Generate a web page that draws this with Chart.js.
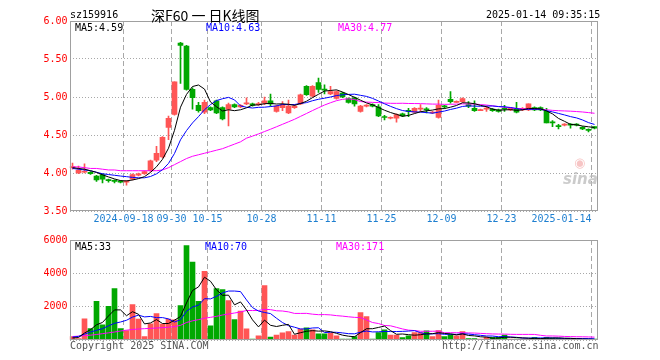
<!DOCTYPE html>
<html>
<head>
<meta charset="utf-8">
<script src="https://cdn.jsdelivr.net/npm/chart.js@4.4.1/dist/chart.umd.min.js"></script>
<style>
html,body{margin:0;padding:0;background:#fff;}
#wrap{position:relative;width:660px;height:360px;overflow:hidden;font-family:"DejaVu Sans Mono",monospace;font-size:10px;}
#wrap canvas{position:absolute;left:0;top:0;}
.t{position:absolute;white-space:pre;line-height:12px;font-size:10px;font-family:"DejaVu Sans Mono",monospace;}
</style>
</head>
<body>
<div id="wrap">
<canvas id="kc" width="660" height="360"></canvas>
<canvas id="vc" width="660" height="360"></canvas>
<div class="t" style="left:70px;top:9px;color:#000;">sz159916</div>
<div class="t" style="left:151px;top:5px;line-height:20px;font-size:14px;font-family:'Noto Sans CJK SC',sans-serif;color:#000;">深F60 一 日K线图</div>
<div class="t" style="left:486px;top:9px;color:#000;">2025-01-14 09:35:15</div>
<div class="t" style="left:75px;top:22px;color:#000;">MA5:4.59</div>
<div class="t" style="left:206px;top:22px;color:#0000ff;">MA10:4.63</div>
<div class="t" style="left:338px;top:22px;color:#ff00ff;">MA30:4.77</div>
<div class="t" style="left:75px;top:241px;color:#000;">MA5:33</div>
<div class="t" style="left:205px;top:241px;color:#0000ff;">MA10:70</div>
<div class="t" style="left:336px;top:241px;color:#ff00ff;">MA30:171</div>
<div class="t" style="left:70px;top:340px;color:#555;">Copyright 2025 SINA.COM</div>
<div class="t" style="left:442px;top:340px;color:#555;">http://finance.sina.com.cn</div>
<div class="t" style="left:574px;top:156px;font-size:13px;line-height:14px;font-family:'DejaVu Sans',sans-serif;color:rgba(240,150,150,0.55);">◉</div>
<div class="t" style="left:563px;top:170px;font-size:15px;line-height:18px;font-style:italic;font-weight:bold;font-family:'DejaVu Sans',sans-serif;color:rgba(185,185,185,0.75);">sina</div>
</div>
<script>
// ---- data ----
const dates = [
 '2024-09-03','2024-09-04','2024-09-05','2024-09-06','2024-09-09','2024-09-10','2024-09-11','2024-09-12','2024-09-13','2024-09-18',
 '2024-09-19','2024-09-20','2024-09-23','2024-09-24','2024-09-25','2024-09-26','2024-09-27','2024-09-30','2024-10-08','2024-10-09',
 '2024-10-10','2024-10-11','2024-10-14','2024-10-15','2024-10-16','2024-10-17','2024-10-18','2024-10-21','2024-10-22','2024-10-23',
 '2024-10-24','2024-10-25','2024-10-28','2024-10-29','2024-10-30','2024-10-31','2024-11-01','2024-11-04','2024-11-05','2024-11-06',
 '2024-11-07','2024-11-08','2024-11-11','2024-11-12','2024-11-13','2024-11-14','2024-11-15','2024-11-18','2024-11-19','2024-11-20',
 '2024-11-21','2024-11-22','2024-11-25','2024-11-26','2024-11-27','2024-11-28','2024-11-29','2024-12-02','2024-12-03','2024-12-04',
 '2024-12-05','2024-12-06','2024-12-09','2024-12-10','2024-12-11','2024-12-12','2024-12-13','2024-12-16','2024-12-17','2024-12-18',
 '2024-12-19','2024-12-20','2024-12-23','2024-12-24','2024-12-25','2024-12-26','2024-12-27','2024-12-30','2024-12-31','2025-01-02',
 '2025-01-03','2025-01-06','2025-01-07','2025-01-08','2025-01-09','2025-01-10','2025-01-13','2025-01-14'];

const openP = [
 4.07,4.00,4.01,4.01,3.96,3.98,3.91,3.90,3.89,3.88,
 3.92,3.97,3.99,4.03,4.17,4.21,4.60,4.77,5.71,5.67,
 5.10,4.89,4.80,4.86,4.95,4.86,4.84,4.90,4.87,4.91,
 4.91,4.90,4.92,4.95,4.81,4.86,4.79,4.86,4.91,5.14,
 5.01,5.19,5.10,5.04,4.98,5.05,4.98,4.99,4.81,4.88,
 4.90,4.87,4.74,4.72,4.72,4.78,4.82,4.80,4.84,4.84,
 4.79,4.73,4.88,4.97,4.93,4.94,4.90,4.85,4.82,4.84,
 4.84,4.83,4.85,4.83,4.84,4.83,4.83,4.86,4.86,4.81,
 4.67,4.62,4.63,4.64,4.64,4.60,4.57,4.61];
const closeP = [
 4.08,4.04,4.02,3.99,3.91,3.92,3.90,3.89,3.88,3.89,
 3.98,3.99,4.02,4.16,4.26,4.47,4.72,5.20,5.68,5.10,
 4.99,4.82,4.93,4.83,4.79,4.71,4.90,4.87,4.89,4.92,
 4.89,4.91,4.95,4.91,4.88,4.90,4.88,4.88,5.03,5.03,
 5.14,5.10,5.09,5.07,5.07,5.00,4.93,4.91,4.88,4.89,
 4.88,4.75,4.73,4.73,4.77,4.75,4.81,4.85,4.85,4.83,
 4.80,4.89,4.87,4.94,4.94,4.98,4.88,4.82,4.83,4.85,
 4.82,4.81,4.84,4.85,4.80,4.85,4.91,4.83,4.83,4.66,
 4.66,4.61,4.64,4.63,4.63,4.58,4.56,4.59];
const highP = [
 4.13,4.09,4.12,4.02,3.97,3.99,3.92,3.91,3.90,3.90,
 3.99,4.00,4.03,4.17,4.35,4.48,4.75,5.20,5.72,5.68,
 5.12,4.93,4.96,4.87,4.96,4.87,4.92,4.91,4.90,4.99,
 4.92,4.93,5.00,5.04,4.89,4.94,4.96,4.90,5.04,5.15,
 5.15,5.25,5.16,5.14,5.08,5.06,4.99,5.00,4.89,4.90,
 4.91,4.90,4.76,4.74,4.78,4.79,4.85,4.86,4.90,4.86,
 4.81,4.96,4.89,5.07,4.95,4.99,4.94,4.95,4.84,4.88,
 4.85,4.84,4.89,4.86,4.93,4.86,4.91,4.87,4.87,4.85,
 4.69,4.64,4.65,4.65,4.65,4.61,4.58,4.61];
const lowP = [
 4.05,3.99,4.00,3.98,3.89,3.87,3.88,3.87,3.87,3.84,
 3.91,3.96,3.98,4.02,4.15,4.20,4.44,4.76,5.18,5.09,
 4.84,4.80,4.78,4.82,4.78,4.70,4.62,4.86,4.86,4.90,
 4.88,4.89,4.90,4.88,4.80,4.82,4.78,4.85,4.90,5.02,
 5.00,5.06,5.04,5.03,4.97,4.99,4.92,4.88,4.80,4.87,
 4.87,4.74,4.70,4.71,4.67,4.74,4.74,4.79,4.81,4.79,
 4.78,4.72,4.85,4.92,4.93,4.93,4.86,4.81,4.82,4.81,
 4.81,4.80,4.81,4.82,4.79,4.82,4.82,4.82,4.82,4.66,
 4.61,4.58,4.62,4.59,4.62,4.57,4.54,4.58];
const volume = [
 200,80,1270,690,2320,910,2020,3090,690,570,
 2120,1250,200,970,1580,950,1250,1210,2060,5660,
 4670,2320,4120,850,3090,3030,2360,1220,1730,670,
 60,245,3260,180,300,430,510,300,650,730,
 610,370,370,410,245,60,60,200,1650,1410,
 60,450,610,300,300,140,245,450,450,550,
 200,560,200,330,245,500,80,80,60,160,
 160,160,290,60,60,60,60,160,80,160,
 120,95,80,50,45,30,28,12];

const ma5Lead = [4.07,4.06,4.05,4.03];
const ma10Lead = [4.06,4.05,4.04,4.03,4.01,3.99,3.98,3.97,3.96];
const ma30Lead = [4.08,4.08,4.07,4.06,4.06,4.05,4.04,4.04,4.03,4.03,4.03,4.03,4.03,4.03,4.03,4.04,4.07,4.11,4.15,4.19,4.22,4.24,4.26,4.28,4.30,4.32,4.35,4.38,4.41];
const volMa5Lead = [120,150,420,620];
const volMa10Lead = [170,220,350,480,580,680,850,1000,1080];
const volMa30Lead = [210,230,260,290,330,380,430,480,540,590,630,660,680,700,720,740,770,800,880,1050,1150,1220,1310,1360,1420,1500,1560,1620,1680];

// x-axis tick labels and dashed vertical lines
const tickIdx  = [9,17,23,32,42,52,62,72,82];
const tickText = ['2024-09-18','09-30','10-15','10-28','11-11','11-25','12-09','12-23','2025-01-14'];
const gridIdx  = [9,17,23,32,42,52,62,72,87];

// ---- derived ----
function movingAverage(values, n, lead) {
  const out = [];
  for (let i = 0; i < values.length; i++) {
    if (i < n - 1) { out.push(lead[i]); continue; }
    let s = 0;
    for (let j = i - n + 1; j <= i; j++) s += values[j];
    out.push(s / n);
  }
  return out;
}
const UP = '#ff5555', DOWN = '#00a800';
const candleColors = closeP.map((c, i) => c >= openP[i] ? UP : DOWN);
const bodies = openP.map((o, i) => [o, closeP[i]]);
const wicks = lowP.map((l, i) => [l, highP[i]]);

Chart.defaults.font.family = "'DejaVu Sans Mono', monospace";
Chart.defaults.font.size = 10;
Chart.defaults.animation = false;

const framePlugin = {
  id: 'frame',
  afterDraw(chart) {
    const a = chart.chartArea, ctx = chart.ctx;
    ctx.save();
    ctx.strokeStyle = '#a0a0a0';
    ctx.lineWidth = 1;
    const l = Math.round(a.left) + 0.5, r = Math.round(a.right) - 0.5;
    const t = Math.round(a.top) + 0.5, b = Math.round(a.bottom) - 0.5;
    ctx.strokeRect(l, t, r - l, b - t);
    ctx.restore();
  }
};

function xAxis(showTicks) {
  return {
    type: 'category',
    offset: true,
    grid: {
      offset: true,
      drawTicks: false,
      lineWidth: 1,
      color: (c) => gridIdx.includes(c.index) ? '#a8a8a8' : 'rgba(0,0,0,0)'
    },
    border: { display: false, dash: [5, 3] },
    ticks: {
      display: showTicks,
      autoSkip: false,
      maxRotation: 0,
      minRotation: 0,
      padding: 2,
      labelOffset: -3,
      color: '#1e7fd0',
      font: { size: 10 },
      callback: (v, i) => { const k = tickIdx.indexOf(i); return k >= 0 ? tickText[k] : ''; }
    },
    afterFit: (s) => { s.height = showTicks ? 16 : 0; }
  };
}

new Chart(document.getElementById('kc'), {
  type: 'bar',
  data: {
    labels: dates,
    datasets: [
      { type: 'line', data: movingAverage(closeP, 5, ma5Lead), borderColor: '#000000', borderWidth: 1, pointRadius: 0, tension: 0, order: 0 },
      { type: 'line', data: movingAverage(closeP, 10, ma10Lead), borderColor: '#0000ff', borderWidth: 1, pointRadius: 0, tension: 0, order: 0 },
      { type: 'line', data: movingAverage(closeP, 30, ma30Lead), borderColor: '#ff00ff', borderWidth: 1, pointRadius: 0, tension: 0, order: 0 },
      { type: 'bar', data: bodies, backgroundColor: candleColors, barThickness: 5, grouped: false, minBarLength: 1, order: 1 },
      { type: 'bar', data: wicks, backgroundColor: candleColors, barThickness: 1, grouped: false, minBarLength: 1, order: 2 }
    ]
  },
  options: {
    responsive: false,
    animation: false,
    events: [],
    layout: { padding: { top: 21, right: 62.5, bottom: 133, left: 0 } },
    plugins: { legend: { display: false }, tooltip: { enabled: false }, title: { display: false } },
    scales: {
      x: xAxis(true),
      y: {
        position: 'left',
        min: 3.5, max: 6.0,
        ticks: { stepSize: 0.5, color: '#ff0000', padding: 2, font: { size: 10 }, callback: (v) => Number(v).toFixed(2) },
        grid: { color: '#a8a8a8', drawTicks: false, lineWidth: 1 },
        border: { display: false, dash: [1, 2] },
        afterFit: (s) => { s.width = 69.5; }
      }
    }
  },
  plugins: [framePlugin]
});

new Chart(document.getElementById('vc'), {
  type: 'bar',
  data: {
    labels: dates,
    datasets: [
      { type: 'line', data: movingAverage(volume, 5, volMa5Lead), borderColor: '#000000', borderWidth: 1, pointRadius: 0, tension: 0, order: 0 },
      { type: 'line', data: movingAverage(volume, 10, volMa10Lead), borderColor: '#0000ff', borderWidth: 1, pointRadius: 0, tension: 0, order: 0 },
      { type: 'line', data: movingAverage(volume, 30, volMa30Lead), borderColor: '#ff00ff', borderWidth: 1, pointRadius: 0, tension: 0, order: 0 },
      { type: 'bar', data: volume, backgroundColor: candleColors, barThickness: 5, grouped: false, minBarLength: 1, order: 1 }
    ]
  },
  options: {
    responsive: false,
    animation: false,
    events: [],
    layout: { padding: { top: 240, right: 62.5, bottom: 20, left: 0 } },
    plugins: { legend: { display: false }, tooltip: { enabled: false }, title: { display: false } },
    scales: {
      x: xAxis(false),
      y: {
        position: 'left',
        min: 0, max: 6000,
        ticks: { stepSize: 2000, color: '#ff0000', padding: 2, font: { size: 10 }, callback: (v) => v === 0 ? '' : String(v) },
        grid: { color: '#a8a8a8', drawTicks: false, lineWidth: 1 },
        border: { display: false, dash: [1, 2] },
        afterFit: (s) => { s.width = 69.5; }
      }
    }
  },
  plugins: [framePlugin]
});
</script>
</body>
</html>
